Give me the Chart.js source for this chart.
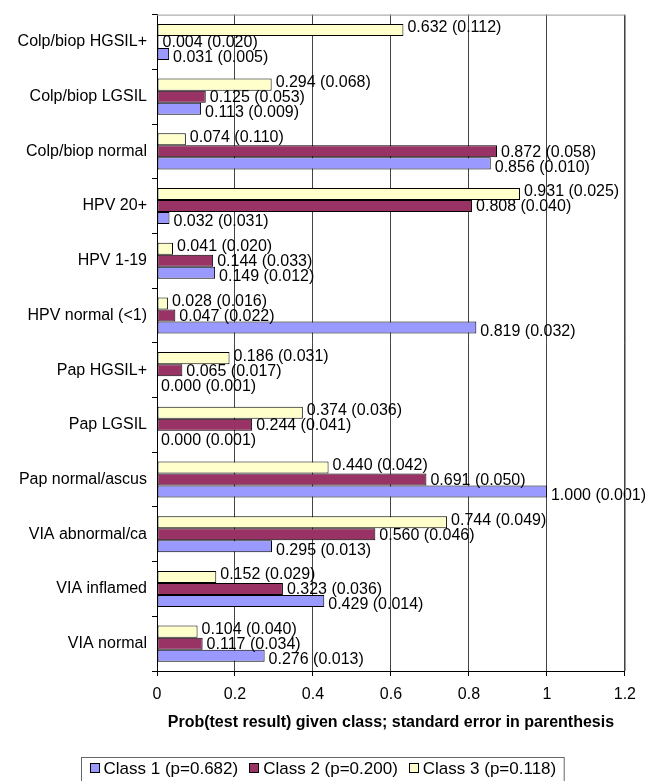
<!DOCTYPE html>
<html><head><meta charset="utf-8">
<script src="https://cdn.jsdelivr.net/npm/chart.js@4.4.1/dist/chart.umd.min.js"></script>
<style>html,body{margin:0;padding:0;background:#fff;overflow:hidden}canvas{display:block}</style>
</head><body>
<canvas id="c" width="645" height="781"></canvas>
<script>
const categories = ['Colp/biop HGSIL+','Colp/biop LGSIL','Colp/biop normal','HPV 20+','HPV 1-19','HPV normal (<1)','Pap HGSIL+','Pap LGSIL','Pap normal/ascus','VIA abnormal/ca','VIA inflamed','VIA normal'];
const class1   = [0.031,0.113,0.856,0.032,0.149,0.819,0.000,0.000,1.000,0.295,0.429,0.276];
const class1SE = [0.005,0.009,0.010,0.031,0.012,0.032,0.001,0.001,0.001,0.013,0.014,0.013];
const class2   = [0.004,0.125,0.872,0.808,0.144,0.047,0.065,0.244,0.691,0.560,0.323,0.117];
const class2SE = [0.020,0.053,0.058,0.040,0.033,0.022,0.017,0.041,0.050,0.046,0.036,0.034];
const class3   = [0.632,0.294,0.074,0.931,0.041,0.028,0.186,0.374,0.440,0.744,0.152,0.104];
const class3SE = [0.112,0.068,0.110,0.025,0.020,0.016,0.031,0.036,0.042,0.049,0.029,0.040];
const seriesNames = ['Class 1 (p=0.682)','Class 2 (p=0.200)','Class 3 (p=0.118)'];
const xTickLabels = ['0','0.2','0.4','0.6','0.8','1','1.2'];
const xTitle = 'Prob(test result) given class; standard error in parenthesis';

const FONT = '"Liberation Sans", Arial, sans-serif';
Chart.defaults.font.family = FONT;
Chart.defaults.font.size = 16;
Chart.defaults.color = '#000';

const colors = {c1:'#9999FF', c2:'#993366', c3:'#FFFFCC'};

const labelPlugin = {
  id:'barLabels',
  afterDatasetsDraw(chart){
    const ctx = chart.ctx;
    ctx.save();
    ctx.font = '16px ' + FONT;
    ctx.fillStyle = '#000';
    ctx.textAlign = 'left';
    ctx.textBaseline = 'middle';
    const offsets = [-2, 1, 4];
    chart.data.datasets.forEach((ds, di) => {
      const meta = chart.getDatasetMeta(di);
      meta.data.forEach((bar, i) => {
        const txt = ds.data[i].toFixed(3) + ' (' + ds.se[i].toFixed(3) + ')';
        ctx.fillText(txt, bar.x + 4, bar.y + offsets[di]);
      });
    });
    ctx.restore();
  }
};

const frameLegendPlugin = {
  id:'frameLegend',
  afterDraw(chart){
    const ctx = chart.ctx, a = chart.chartArea;
    ctx.save();
    ctx.strokeStyle = '#999';
    ctx.lineWidth = 1;
    ctx.beginPath();
    ctx.moveTo(a.left, a.top + 0.5);
    ctx.lineTo(Math.round(a.right) + 0.5, a.top + 0.5);
    ctx.lineTo(Math.round(a.right) + 0.5, a.bottom);
    ctx.stroke();
    // legend
    ctx.font = '17px ' + FONT;
    ctx.textBaseline = 'middle';
    const items = [
      {t:seriesNames[0], c:colors.c1},
      {t:seriesNames[1], c:colors.c2},
      {t:seriesNames[2], c:colors.c3}
    ];
    const box = 10, gapBox = 4, gapItem = 11, pad = 8;
    let total = 0;
    items.forEach((it, k) => { it.w = ctx.measureText(it.t).width; total += box + gapBox + it.w + (k ? gapItem : 0); });
    const W = total + pad * 2;
    const left = Math.round((chart.width - W) / 2) + 0.5;
    const top = 757.5;
    ctx.strokeStyle = '#666';
    ctx.strokeRect(left, top, W, 40);
    let x = left + pad;
    const cy = 768;
    items.forEach((it) => {
      ctx.fillStyle = it.c;
      ctx.fillRect(Math.round(x), cy - 5, box, box);
      ctx.strokeStyle = '#000';
      ctx.strokeRect(Math.round(x) + 0.5, cy - 5 + 0.5, box - 1, box - 1);
      x += box + gapBox;
      ctx.fillStyle = '#000';
      ctx.fillText(it.t, x, cy + 1);
      x += it.w + gapItem;
    });
    ctx.restore();
  }
};

new Chart(document.getElementById('c'), {
  type:'bar',
  data:{
    labels: categories,
    datasets:[
      {label:seriesNames[2], data:class3, se:class3SE, backgroundColor:colors.c3},
      {label:seriesNames[1], data:class2, se:class2SE, backgroundColor:colors.c2},
      {label:seriesNames[0], data:class1, se:class1SE, backgroundColor:colors.c1}
    ]
  },
  options:{
    indexAxis:'y',
    responsive:false,
    animation:false,
    devicePixelRatio:1,
    datasets:{bar:{borderColor:'#000', borderWidth:1, borderSkipped:false, categoryPercentage:0.66, barPercentage:1}},
    layout:{padding:{top:13, right:20, left:0, bottom:49}},
    plugins:{legend:{display:false}, tooltip:{enabled:false}},
    scales:{
      x:{
        min:0, max:1.2,
        ticks:{stepSize:0.2, padding:9, font:{size:16}, color:'#000',
          callback:(v, i) => xTickLabels[i]},
        grid:{color:'#444', tickColor:'#000', tickLength:5, lineWidth:1},
        border:{color:'#000', width:1},
        title:{display:true, text:xTitle, font:{size:16, weight:'bold'}, color:'#000', padding:{top:0,bottom:0}},
        afterFit(s){ s.height = 61; }
      },
      y:{
        ticks:{padding:5, font:{size:16}, color:'#000', autoSkip:false},
        grid:{drawOnChartArea:false, offset:true, tickLength:5, color:'#000'},
        border:{color:'#000', width:1},
        afterFit(s){ s.width = 157; }
      }
    }
  },
  plugins:[labelPlugin, frameLegendPlugin]
});
</script>
</body></html>
